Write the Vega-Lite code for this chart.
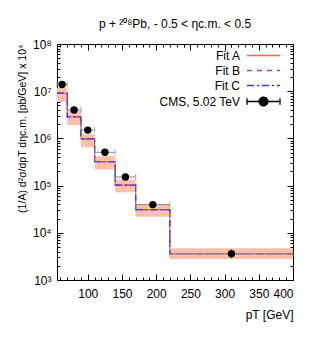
{
  "$schema": "https://vega.github.io/schema/vega-lite/v6.json",
  "autosize": "none",
  "width": 236,
  "height": 236,
  "padding": {"left": 57, "top": 44, "right": 18, "bottom": 59},
  "config": {
    "font": "Liberation Sans",
    "view": {"stroke": "black", "strokeWidth": 1},
    "axis": {"domain": false, "grid": false, "tickColor": "black", "tickWidth": 1, "labelColor": "black", "labelFontSize": 12, "titleFontSize": 12, "titleFontWeight": "normal", "titleColor": "black"},
    "title": {"fontSize": 12, "fontWeight": "normal", "color": "black"}
  },
  "title": {"text": "p + ²⁰⁸Pb, - 0.5 < ηc.m. < 0.5", "offset": 7},
  "datasets": {
    "bins": [
      {"lo": 55, "hi": 70, "pt": 62.5, "val": 1.39e7, "eLo": 1.27e7, "eHi": 1.52e7, "bLo": 5.9e6, "bHi": 1.16e7, "src": "CMS, 5.02 TeV"},
      {"lo": 70, "hi": 90, "pt": 80, "val": 4.0e6, "eLo": 3.65e6, "eHi": 4.4e6, "bLo": 1.93e6, "bHi": 3.78e6, "src": "CMS, 5.02 TeV"},
      {"lo": 90, "hi": 110, "pt": 100, "val": 1.5e6, "eLo": 1.37e6, "eHi": 1.65e6, "bLo": 6.5e5, "bHi": 1.23e6, "src": "CMS, 5.02 TeV"},
      {"lo": 110, "hi": 140, "pt": 125, "val": 5.07e5, "eLo": 4.6e5, "eHi": 5.6e5, "bLo": 2.2e5, "bHi": 4.2e5, "src": "CMS, 5.02 TeV"},
      {"lo": 140, "hi": 170, "pt": 155, "val": 1.52e5, "eLo": 1.37e5, "eHi": 1.69e5, "bLo": 7.2e4, "bHi": 1.35e5, "src": "CMS, 5.02 TeV"},
      {"lo": 170, "hi": 220, "pt": 195, "val": 3.96e4, "eLo": 3.5e4, "eHi": 4.45e4, "bLo": 2.2e4, "bHi": 4.1e4, "src": "CMS, 5.02 TeV"},
      {"lo": 220, "hi": 400, "pt": 310, "val": 3.6e3, "eLo": 2.85e3, "eHi": 4.5e3, "bLo": 2.8e3, "bHi": 4.7e3, "src": "CMS, 5.02 TeV"}
    ],
    "fits": [
      {"s": "Fit A", "x": 55, "y": 9.1e6}, {"s": "Fit A", "x": 70, "y": 2.87e6}, {"s": "Fit A", "x": 90, "y": 9.8e5}, {"s": "Fit A", "x": 110, "y": 3.2e5},
      {"s": "Fit A", "x": 140, "y": 1.02e5}, {"s": "Fit A", "x": 170, "y": 3.1e4}, {"s": "Fit A", "x": 220, "y": 3.6e3}, {"s": "Fit A", "x": 400, "y": 3.6e3},
      {"s": "Fit B", "x": 55, "y": 9.1e6}, {"s": "Fit B", "x": 70, "y": 2.87e6}, {"s": "Fit B", "x": 90, "y": 9.8e5}, {"s": "Fit B", "x": 110, "y": 3.2e5},
      {"s": "Fit B", "x": 140, "y": 1.02e5}, {"s": "Fit B", "x": 170, "y": 3.1e4}, {"s": "Fit B", "x": 220, "y": 3.6e3}, {"s": "Fit B", "x": 400, "y": 3.6e3},
      {"s": "Fit C", "x": 55, "y": 9.1e6}, {"s": "Fit C", "x": 70, "y": 2.87e6}, {"s": "Fit C", "x": 90, "y": 9.8e5}, {"s": "Fit C", "x": 110, "y": 3.2e5},
      {"s": "Fit C", "x": 140, "y": 1.02e5}, {"s": "Fit C", "x": 170, "y": 3.1e4}, {"s": "Fit C", "x": 220, "y": 3.6e3}, {"s": "Fit C", "x": 400, "y": 3.6e3}
    ]
  },
  "resolve": {"axis": {"x": "independent", "y": "independent"}},
  "layer": [
    {
      "data": {"name": "bins"},
      "mark": {"type": "rect", "fill": "#ffbfa8", "opacity": 1},
      "encoding": {
        "x": {"field": "lo", "type": "quantitative", "scale": {"domain": [55, 400], "nice": false, "zero": false},
              "axis": {"orient": "bottom", "values": [100, 150, 200, 250, 300, 350, 400], "tickSize": -6, "labelPadding": 14, "title": "pT [GeV]", "titleAnchor": "end", "titlePadding": 10}},
        "x2": {"field": "hi"},
        "y": {"field": "bLo", "type": "quantitative", "scale": {"type": "log", "domain": [1000, 100000000], "nice": false},
              "axis": {"orient": "left", "values": [1000, 10000, 100000, 1000000, 10000000, 100000000], "tickSize": -6, "labelPadding": 12,
                       "labelExpr": "'10' + ['⁰','¹','²','³','⁴','⁵','⁶','⁷','⁸'][round(log(datum.value)/LN10)]",
                       "title": "(1/A) d²σ/dpT dηc.m. [pb/GeV] x 10⁴", "titleFontSize": 10.5, "titleAnchor": "end", "titleX": -35, "titleBaseline": "middle"}},
        "y2": {"field": "bHi"}
      }
    },
    {
      "data": {"name": "fits"},
      "mark": {"type": "line", "interpolate": "step-after", "strokeWidth": 1.2},
      "encoding": {
        "x": {"field": "x", "type": "quantitative", "scale": {"domain": [55, 400], "nice": false, "zero": false},
              "axis": {"orient": "bottom", "values": [60, 70, 80, 90, 110, 120, 130, 140, 160, 170, 180, 190, 210, 220, 230, 240, 260, 270, 280, 290, 310, 320, 330, 340, 360, 370, 380, 390], "tickSize": -3, "labels": false, "title": null}},
        "y": {"field": "y", "type": "quantitative", "scale": {"type": "log", "domain": [1000, 100000000], "nice": false},
              "axis": {"orient": "left", "values": [2000, 3000, 4000, 5000, 6000, 7000, 8000, 9000, 20000, 30000, 40000, 50000, 60000, 70000, 80000, 90000, 200000, 300000, 400000, 500000, 600000, 700000, 800000, 900000, 2000000, 3000000, 4000000, 5000000, 6000000, 7000000, 8000000, 9000000, 20000000, 30000000, 40000000, 50000000, 60000000, 70000000, 80000000, 90000000], "tickSize": -3, "labels": false, "title": null}},
        "color": {"field": "s", "type": "nominal", "scale": {"domain": ["Fit A", "Fit B", "Fit C", "CMS, 5.02 TeV"], "range": ["#ff6a3d", "#a040b0", "#2a3cf0", "black"]},
                  "legend": {"title": null, "orient": "none", "legendX": 200, "legendY": 5, "symbolSize": 121, "labelAlign": "right", "labelOffset": -30, "labelFontSize": 12, "labelColor": "black", "rowPadding": 2,
                             "encode": {"symbols": {"update": {
                               "shape": {"signal": "datum.value === 'CMS, 5.02 TeV' ? 'M-3,0H3M-3,-0.6V0.6M3,-0.6V0.6M-0.8,0A0.8,0.8 0 1,0 0.8,0A0.8,0.8 0 1,0 -0.8,0Z' : 'M-3,0H3'"},
                               "size": {"value": 121},
                               "fill": {"signal": "datum.value === 'CMS, 5.02 TeV' ? 'black' : 'transparent'"},
                               "stroke": {"signal": "datum.value === 'CMS, 5.02 TeV' ? '#777777' : (datum.value === 'Fit A' ? '#ff5a2a' : (datum.value === 'Fit B' ? '#a040b0' : '#2030f0'))"},
                               "strokeDash": {"signal": "datum.value === 'Fit B' ? [5,5] : (datum.value === 'Fit C' ? [7,3,2,3] : [1,0])"},
                               "strokeWidth": {"value": 1.3},
                               "strokeOpacity": {"value": 1},
                               "opacity": {"value": 1}}}}}},
        "strokeDash": {"field": "s", "type": "nominal", "scale": {"domain": ["Fit A", "Fit B", "Fit C"], "range": [[1, 0], [5, 5], [7, 3, 2, 3]]}, "legend": null}
      }
    },
    {
      "data": {"name": "bins"},
      "mark": {"type": "rule", "color": "#888888", "strokeWidth": 1},
      "encoding": {
        "x": {"field": "lo", "type": "quantitative", "scale": {"domain": [55, 400], "nice": false, "zero": false},
              "axis": {"orient": "top", "values": [100, 150, 200, 250, 300, 350, 400], "tickSize": -6, "labels": false, "title": null}},
        "x2": {"field": "hi"},
        "y": {"field": "val", "type": "quantitative", "scale": {"type": "log", "domain": [1000, 100000000], "nice": false},
              "axis": {"orient": "right", "values": [1000, 10000, 100000, 1000000, 10000000, 100000000], "tickSize": -6, "labels": false, "title": null}}
      }
    },
    {
      "data": {"name": "bins"},
      "mark": {"type": "rule", "color": "#888888", "strokeWidth": 1},
      "encoding": {
        "x": {"field": "pt", "type": "quantitative", "scale": {"domain": [55, 400], "nice": false, "zero": false},
              "axis": {"orient": "top", "values": [60, 70, 80, 90, 110, 120, 130, 140, 160, 170, 180, 190, 210, 220, 230, 240, 260, 270, 280, 290, 310, 320, 330, 340, 360, 370, 380, 390], "tickSize": -3, "labels": false, "title": null}},
        "y": {"field": "eLo", "type": "quantitative", "scale": {"type": "log", "domain": [1000, 100000000], "nice": false},
              "axis": {"orient": "right", "values": [2000, 3000, 4000, 5000, 6000, 7000, 8000, 9000, 20000, 30000, 40000, 50000, 60000, 70000, 80000, 90000, 200000, 300000, 400000, 500000, 600000, 700000, 800000, 900000, 2000000, 3000000, 4000000, 5000000, 6000000, 7000000, 8000000, 9000000, 20000000, 30000000, 40000000, 50000000, 60000000, 70000000, 80000000, 90000000], "tickSize": -3, "labels": false, "title": null}},
        "y2": {"field": "eHi"}
      }
    },
    {
      "data": {"name": "bins"},
      "mark": {"type": "tick", "orient": "vertical", "color": "#888888", "size": 6, "thickness": 1},
      "encoding": {
        "x": {"field": "lo", "type": "quantitative", "axis": null},
        "y": {"field": "val", "type": "quantitative", "axis": null}
      }
    },
    {
      "data": {"name": "bins"},
      "mark": {"type": "tick", "orient": "vertical", "color": "#888888", "size": 6, "thickness": 1},
      "encoding": {
        "x": {"field": "hi", "type": "quantitative", "axis": null},
        "y": {"field": "val", "type": "quantitative", "axis": null}
      }
    },
    {
      "data": {"name": "bins"},
      "mark": {"type": "circle", "size": 55, "opacity": 1},
      "encoding": {
        "x": {"field": "pt", "type": "quantitative", "axis": null},
        "y": {"field": "val", "type": "quantitative", "axis": null},
        "color": {"field": "src", "type": "nominal"}
      }
    }
  ]
}
